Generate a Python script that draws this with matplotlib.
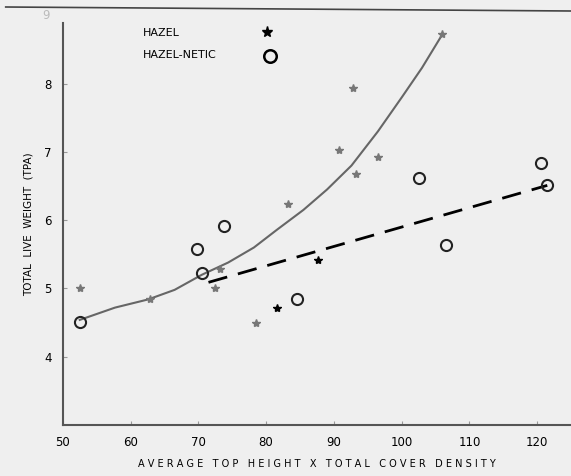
import numpy as np
import matplotlib
matplotlib.use('Agg')
import matplotlib.pyplot as plt
from matplotlib.lines import Line2D

# HAZEL (faint printed stars)
hazel_x = [52.5, 62.8, 72.4, 73.2, 78.5, 83.2, 90.8, 92.8, 93.3, 96.5, 106.0]
hazel_y = [5.00, 4.85, 5.01, 5.29, 4.50, 6.23, 7.03, 7.94, 6.68, 6.93, 8.73]
# HAZEL (dark stars)
hazel_dark_x = [81.6, 87.7]
hazel_dark_y = [4.72, 5.41]
# HAZEL-NETIC
netic_x = [52.6, 69.8, 70.5, 73.8, 84.6, 102.6, 106.6, 120.6, 121.5]
netic_y = [4.51, 5.58, 5.23, 5.92, 4.84, 6.62, 5.63, 6.84, 6.51]

# fitted curves as drawn
curve_x = [52.5, 57.7, 62.6, 66.5, 70.5, 74.4, 78.2, 81.6, 85.5, 89.0, 92.6, 96.5, 100.1, 103.0, 105.7, 106.0]
curve_y = [4.54, 4.72, 4.84, 4.98, 5.20, 5.38, 5.60, 5.86, 6.15, 6.45, 6.80, 7.30, 7.81, 8.23, 8.67, 8.72]
dash_x = [71.5, 121.5]
dash_y = [5.09, 6.51]

xticks = [50, 60, 70, 80, 90, 100, 110, 120]
yticks = [4, 5, 6, 7, 8]

bg = '#efefef'
fig = plt.figure(figsize=(5.71, 4.76), dpi=100)
fig.patch.set_facecolor(bg)
ax = fig.add_axes([0.110, 0.107, 0.890, 0.845])
ax.set_facecolor(bg)

ax.plot(curve_x, curve_y, color='#666666', lw=1.5)
ax.plot(dash_x, dash_y, color='black', lw=2, dashes=(7, 4))
ax.plot(hazel_x, hazel_y, ls='none', marker='*', ms=6, color='#777777')
ax.plot(hazel_dark_x, hazel_dark_y, ls='none', marker='*', ms=6, color='black')
ax.plot(netic_x, netic_y, ls='none', marker='o', ms=8, mfc='none', mec='#222222', mew=1.5)

ax.set_xlim(50, 125)
ax.set_ylim(3.0, 8.89)
ax.set_xticks(xticks)
ax.set_yticks(yticks)
ax.tick_params(direction='in', length=3, color='#999999', labelsize=8.5, pad=8)
for s in ['top', 'right']:
    ax.spines[s].set_visible(False)
for s in ['left', 'bottom']:
    ax.spines[s].set_color('#555555')
    ax.spines[s].set_linewidth(1.5)

ax.text(-0.034, 9.0, '9', transform=ax.get_yaxis_transform(), ha='center', va='center',
        fontsize=8.5, color='#bbbbbb', clip_on=False)

ax.set_xlabel('A V E R A G E   T O P   H E I G H T   X   T O T A L   C O V E R   D E N S I T Y',
              fontsize=7, labelpad=7)
ax.set_ylabel('TOTAL  LIVE  WEIGHT  (TPA)', fontsize=7.5, labelpad=8)

# legend
fig.text(143 / 571, 1 - 33 / 476, 'HAZEL', fontsize=8, va='center')
fig.text(143 / 571, 1 - 55 / 476, 'HAZEL-NETIC', fontsize=8, va='center')
fig.add_artist(Line2D([267 / 571], [1 - 32 / 476], marker='*', ms=8, color='black', ls='none'))
fig.add_artist(Line2D([270 / 571], [1 - 56 / 476], marker='o', ms=9, mfc='none', mec='black',
                      mew=1.8, ls='none'))

# scan border line at the top
fig.add_artist(Line2D([0.01, 1.0], [1 - 7 / 476, 1 - 11 / 476], color='#444444', lw=1.2))

fig.savefig('out.png', dpi=100, facecolor=bg)
